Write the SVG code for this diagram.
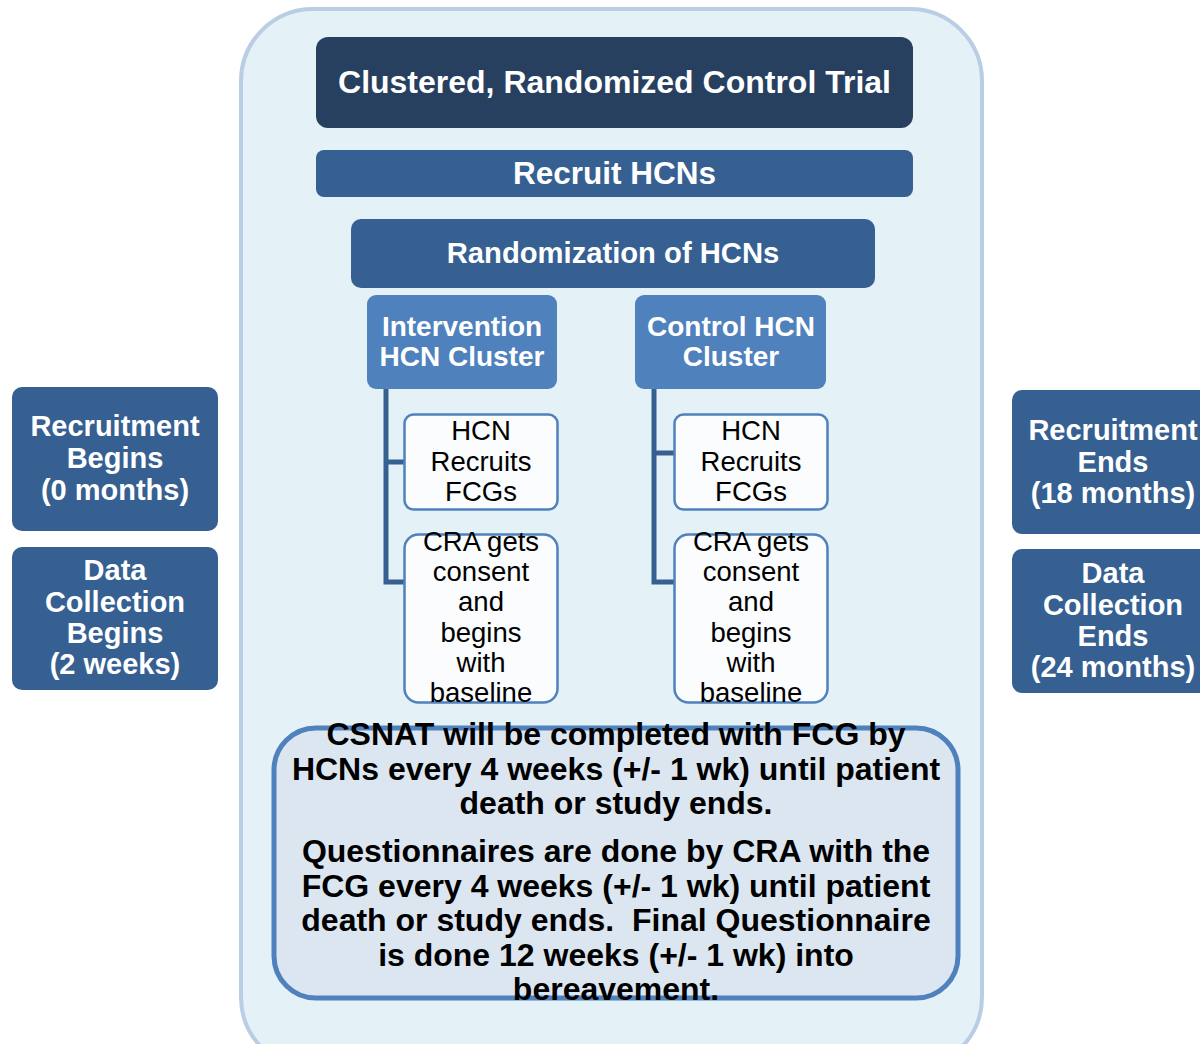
<svg xmlns="http://www.w3.org/2000/svg" width="1200" height="1044" viewBox="0 0 1200 1044">
<style>
  text { font-family: "Liberation Sans", Arial, sans-serif; text-anchor: middle; }
  .w { fill: #ffffff; font-weight: bold; }
  .k { fill: #000000; }
  .kb { fill: #000000; font-weight: bold; }
  .dark { fill: #274060; }
  .mid { fill: #366092; }
  .light { fill: #4F81BD; }
  .child { fill: #FAFCFE; stroke: #4F81BD; stroke-width: 2.5; }
  .conn { fill: none; stroke: #366092; stroke-width: 5; }
</style>
<rect x="0" y="0" width="1200" height="1044" fill="#ffffff"/>
<g id="container">
  <rect x="241" y="9" width="741" height="1060" rx="72" fill="#E4F1F6" stroke="#B9CDE5" stroke-width="4"/>
</g>
<g id="title">
  <rect class="dark" x="316" y="37" width="597" height="91" rx="12"/>
  <text class="w" x="614.5" y="93" font-size="32">Clustered, Randomized Control Trial</text>
</g>
<g id="recruit">
  <rect class="mid" x="316" y="150" width="597" height="47" rx="8"/>
  <text class="w" x="614.5" y="184" font-size="31.5">Recruit HCNs</text>
</g>
<g id="randomization">
  <rect class="mid" x="351" y="219" width="524" height="69" rx="10"/>
  <text class="w" x="613" y="263" font-size="29.2">Randomization of HCNs</text>
</g>
<g id="connectors">
  <path class="conn" d="M386 389 V582 H404 M386 462 H404"/>
  <path class="conn" d="M654 382 V582 H674 M654 453 H674"/>
</g>
<g id="intervention">
  <rect class="light" x="367" y="295" width="190" height="94" rx="9"/>
  <text class="w" x="462" y="336" font-size="28">Intervention</text>
  <text class="w" x="462" y="366" font-size="28">HCN Cluster</text>
</g>
<g id="control">
  <rect class="light" x="635" y="295" width="191" height="94" rx="9"/>
  <text class="w" x="731" y="336" font-size="28">Control HCN</text>
  <text class="w" x="731" y="366" font-size="28">Cluster</text>
</g>
<g id="int-recruits">
  <rect class="child" x="404.5" y="414.5" width="153" height="95" rx="9"/>
  <text class="k" x="481" y="440" font-size="27.5">HCN</text>
  <text class="k" x="481" y="471" font-size="27.5">Recruits</text>
  <text class="k" x="481" y="501" font-size="27.5">FCGs</text>
</g>
<g id="int-cra">
  <rect class="child" x="404.5" y="534.5" width="153" height="168" rx="14"/>
  <text class="k" x="481" y="551" font-size="27.5">CRA gets</text>
  <text class="k" x="481" y="581" font-size="27.5">consent</text>
  <text class="k" x="481" y="611" font-size="27.5">and</text>
  <text class="k" x="481" y="642" font-size="27.5">begins</text>
  <text class="k" x="481" y="672" font-size="27.5">with</text>
  <text class="k" x="481" y="702" font-size="27.5">baseline</text>
</g>
<g id="ctl-recruits">
  <rect class="child" x="674.5" y="414.5" width="153" height="95" rx="9"/>
  <text class="k" x="751" y="440" font-size="27.5">HCN</text>
  <text class="k" x="751" y="471" font-size="27.5">Recruits</text>
  <text class="k" x="751" y="501" font-size="27.5">FCGs</text>
</g>
<g id="ctl-cra">
  <rect class="child" x="674.5" y="534.5" width="153" height="168" rx="14"/>
  <text class="k" x="751" y="551" font-size="27.5">CRA gets</text>
  <text class="k" x="751" y="581" font-size="27.5">consent</text>
  <text class="k" x="751" y="611" font-size="27.5">and</text>
  <text class="k" x="751" y="642" font-size="27.5">begins</text>
  <text class="k" x="751" y="672" font-size="27.5">with</text>
  <text class="k" x="751" y="702" font-size="27.5">baseline</text>
</g>
<g id="recruitment-begins">
  <rect class="mid" x="12" y="387" width="206" height="144" rx="10"/>
  <text class="w" x="115" y="436" font-size="29">Recruitment</text>
  <text class="w" x="115" y="468" font-size="29">Begins</text>
  <text class="w" x="115" y="500" font-size="29">(0 months)</text>
</g>
<g id="data-begins">
  <rect class="mid" x="12" y="547" width="206" height="143" rx="10"/>
  <text class="w" x="115" y="580" font-size="29">Data</text>
  <text class="w" x="115" y="612" font-size="29">Collection</text>
  <text class="w" x="115" y="643" font-size="29">Begins</text>
  <text class="w" x="115" y="674" font-size="29">(2 weeks)</text>
</g>
<g id="recruitment-ends">
  <rect class="mid" x="1012" y="390" width="204" height="144" rx="10"/>
  <text class="w" x="1113" y="440" font-size="29">Recruitment</text>
  <text class="w" x="1113" y="472" font-size="29">Ends</text>
  <text class="w" x="1113" y="503" font-size="29">(18 months)</text>
</g>
<g id="data-ends">
  <rect class="mid" x="1012" y="549" width="204" height="144" rx="10"/>
  <text class="w" x="1113" y="583" font-size="29">Data</text>
  <text class="w" x="1113" y="615" font-size="29">Collection</text>
  <text class="w" x="1113" y="646" font-size="29">Ends</text>
  <text class="w" x="1113" y="677" font-size="29">(24 months)</text>
</g>
<g id="bottom">
  <rect x="274" y="728" width="684" height="270" rx="42" fill="#DCE6F1" stroke="#4F81BD" stroke-width="5"/>
  <text class="kb" x="616" y="745" font-size="32">CSNAT will be completed with FCG by</text>
  <text class="kb" x="616" y="780" font-size="32">HCNs every 4 weeks (+/- 1 wk) until patient</text>
  <text class="kb" x="616" y="814" font-size="32">death or study ends.</text>
  <text class="kb" x="616" y="862" font-size="32">Questionnaires are done by CRA with the</text>
  <text class="kb" x="616" y="897" font-size="32">FCG every 4 weeks (+/- 1 wk) until patient</text>
  <text class="kb" x="616" y="931" font-size="32" xml:space="preserve">death or study ends.  Final Questionnaire</text>
  <text class="kb" x="616" y="966" font-size="32">is done 12 weeks (+/- 1 wk) into</text>
  <text class="kb" x="616" y="1000" font-size="32">bereavement.</text>
</g>
</svg>
